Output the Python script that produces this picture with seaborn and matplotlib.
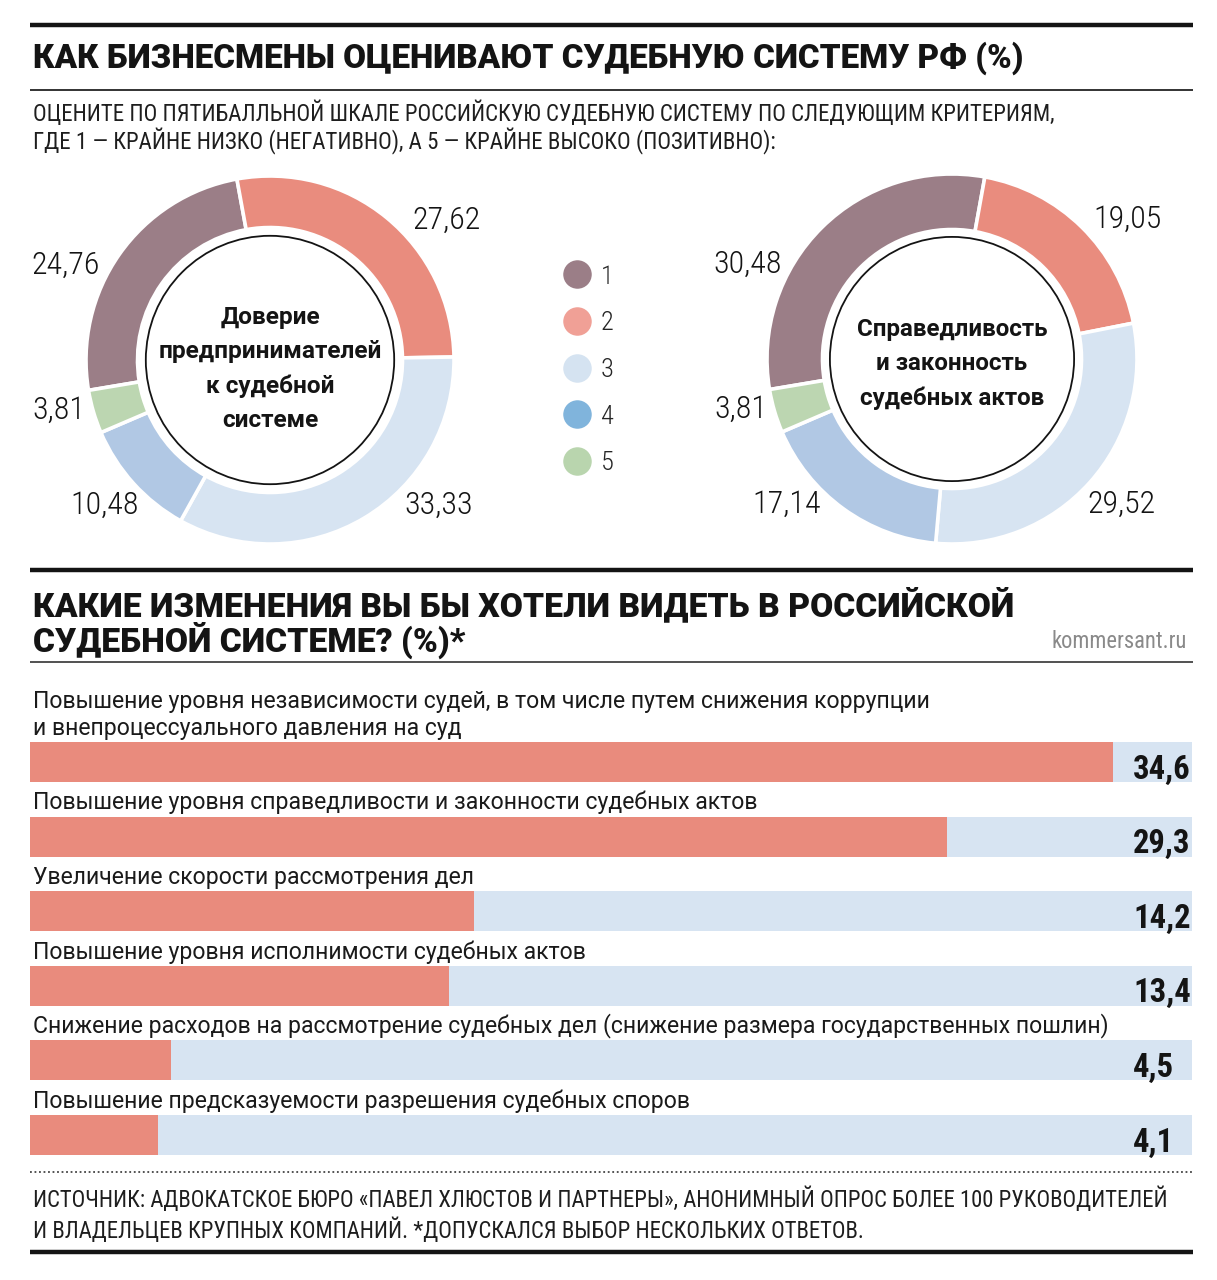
import matplotlib
matplotlib.use("Agg")
import matplotlib.pyplot as plt
import matplotlib.transforms as mtransforms
from matplotlib.lines import Line2D
from matplotlib.patches import Circle
import numpy as np
import pandas as pd
import seaborn as sns

# ---------------- data ----------------
ratings = ["1", "2", "3", "4", "5"]
trust_values = [24.76, 27.62, 33.33, 10.48, 3.81]
fairness_values = [30.48, 19.05, 29.52, 17.14, 3.81]
trust_title = "Доверие\nпредпринимателей\nк судебной\nсистеме"
fairness_title = "Справедливость\nи законность\nсудебных актов"

change_labels = [
    "Повышение уровня независимости судей, в том числе путем снижения коррупции\nи внепроцессуального давления на суд",
    "Повышение уровня справедливости и законности судебных актов",
    "Увеличение скорости рассмотрения дел",
    "Повышение уровня исполнимости судебных актов",
    "Снижение расходов на рассмотрение судебных дел (снижение размера государственных пошлин)",
    "Повышение предсказуемости разрешения судебных споров",
]
change_values = [34.6, 29.3, 14.2, 13.4, 4.5, 4.1]

title1 = "КАК БИЗНЕСМЕНЫ ОЦЕНИВАЮТ СУДЕБНУЮ СИСТЕМУ РФ (%)"
subtitle = ["ОЦЕНИТЕ ПО ПЯТИБАЛЛЬНОЙ ШКАЛЕ РОССИЙСКУЮ СУДЕБНУЮ СИСТЕМУ ПО СЛЕДУЮЩИМ КРИТЕРИЯМ,",
            "ГДЕ 1 — КРАЙНЕ НИЗКО (НЕГАТИВНО), А 5 — КРАЙНЕ ВЫСОКО (ПОЗИТИВНО):"]
title2 = ["КАКИЕ ИЗМЕНЕНИЯ ВЫ БЫ ХОТЕЛИ ВИДЕТЬ В РОССИЙСКОЙ", "СУДЕБНОЙ СИСТЕМЕ? (%)*"]
source = ["ИСТОЧНИК: АДВОКАТСКОЕ БЮРО «ПАВЕЛ ХЛЮСТОВ И ПАРТНЕРЫ», АНОНИМНЫЙ ОПРОС БОЛЕЕ 100 РУКОВОДИТЕЛЕЙ",
          "И ВЛАДЕЛЬЦЕВ КРУПНЫХ КОМПАНИЙ. *ДОПУСКАЛСЯ ВЫБОР НЕСКОЛЬКИХ ОТВЕТОВ."]
site = "kommersant.ru"

# ---------------- style ----------------
donut_colors = ["#9B7E87", "#E98C7E", "#D7E4F2", "#B1C8E4", "#BCD6B1"]
legend_colors = ["#9B7E87", "#F0A096", "#D5E3F1", "#80B4DC", "#B9D5AE"]
bar_red = "#E98B7D"
bar_bg = "#D7E4F2"
ink = "#141414"

sns.set_theme(style="white")
plt.rcParams["font.family"] = ["Roboto", "DejaVu Sans"]
COND = ["Roboto Condensed", "Roboto", "DejaVu Sans"]

W, H = 1217, 1280
fig = plt.figure(figsize=(W / 100, H / 100), dpi=100)
fig.patch.set_facecolor("white")
renderer = fig.canvas.get_renderer()

ov = fig.add_axes([0, 0, 1, 1])
ov.set_xlim(0, W)
ov.set_ylim(H, 0)
ov.axis("off")


def px_axes(x0, y0, x1, y1):
    return fig.add_axes([x0 / W, 1 - y1 / H, (x1 - x0) / W, (y1 - y0) / H])


def fit_size(s, width, **kw):
    t = fig.text(0, 0, s, fontsize=20, **kw)
    w = t.get_window_extent(renderer).width
    t.remove()
    return 20 * width / w


def fit_text(ax, x, y, s, width, **kw):
    size = fit_size(s, width, **{k: v for k, v in kw.items() if k in ("weight", "family", "linespacing")})
    return ax.text(x, y, s, fontsize=size, **kw)


# rules
ov.plot([30, 1193], [25, 25], color=ink, lw=3.2, solid_capstyle="butt")
ov.plot([30, 1193], [90, 90], color="#333333", lw=1.4, solid_capstyle="butt")
ov.plot([30, 1193], [570, 570], color=ink, lw=3.2, solid_capstyle="butt")
ov.plot([30, 1193], [662, 662], color="#333333", lw=1.2, solid_capstyle="butt")
ov.plot([30, 1193], [1172, 1172], color="#444444", lw=1.3, ls=(0, (1, 1.5)))
ov.plot([30, 1193], [1252, 1252], color=ink, lw=3.2, solid_capstyle="butt")

# titles
fit_text(ov, 33, 58, title1, 992, ha="left", va="center", weight="black", color=ink)
fs_sub = fit_size(subtitle[0], 1022, family=COND)
ov.text(33, 113, subtitle[0], ha="left", va="center", color="#1e1e1e", family=COND, fontsize=fs_sub)
ov.text(33, 141, subtitle[1], ha="left", va="center", color="#1e1e1e", family=COND, fontsize=fs_sub)
fs_t2 = fit_size(title2[0], 979, weight="black")
ov.text(33, 605, title2[0], ha="left", va="center", weight="black", color=ink, fontsize=fs_t2)
ov.text(33, 640, title2[1], ha="left", va="center", weight="black", color=ink, fontsize=fs_t2)
fit_text(ov, 1187, 641, site, 135, ha="right", va="center", color="#8a8a8a", family=COND)
fs_src = fit_size(source[0], 1137, family=COND)
ov.text(33, 1199, source[0], ha="left", va="center", color="#1e1e1e", family=COND, fontsize=fs_src)
ov.text(33, 1230, source[1], ha="left", va="center", color="#1e1e1e", family=COND, fontsize=fs_src)

# ---------------- donuts ----------------
label_offsets = [(-204, 95), (176, 140), (169, -145), (-165, -145), (-211, -50)]
num_fs = 23
START = 189.5


def donut(cx, cy, R, values, title, title_width, title_cy, ring, inner):
    ax = px_axes(cx - R, cy - R, cx + R, cy + R)
    ax.pie(values, colors=donut_colors, startangle=START, counterclock=False,
           radius=1, wedgeprops=dict(width=ring, edgecolor="white", linewidth=2.6))
    ax.add_patch(Circle((0, 0), inner, fill=False, edgecolor=ink, lw=1.3))
    ax.set_xlim(-1, 1)
    ax.set_ylim(-1, 1)
    ax.set_aspect("equal")
    ax.axis("off")
    for v, (dx, dy) in zip(values, label_offsets):
        ax.text(dx / R, dy / R, f"{v:.2f}".replace(".", ","), ha="center", va="center",
                family=COND, weight="light", color=ink, fontsize=num_fs)
    fs = fit_size(title, title_width, weight="bold", linespacing=1.6)
    ax.text(0, (cy - title_cy) / R, title, ha="center", va="center", weight="bold",
            color=ink, linespacing=1.6, fontsize=fs)
    return ax


donut(270, 360, 184, trust_values, trust_title, 223, 369, 0.28, 0.675)
donut(952, 359, 185, fairness_values, fairness_title, 191, 364, 0.30, 0.66)

# legend
handles = [Line2D([], [], marker="o", ls="", markersize=19.5, markerfacecolor=c,
                  markeredgecolor=c) for c in legend_colors]
fig.legend(handles, ratings, loc="center", bbox_to_anchor=(589 / W, 1 - 370 / H),
           frameon=False, labelspacing=0.86, handletextpad=0.4,
           handlelength=1.0, prop=dict(family=COND, size=19, weight="light"))

# ---------------- bars ----------------
bx = px_axes(30, 724.7, 1192, 1172.3)
xmax = 1162 / 31.3
df = pd.DataFrame({"label": change_labels, "value": change_values, "full": [xmax] * len(change_values)})
sns.barplot(data=df, x="full", y="label", orient="h", color=bar_bg, saturation=1,
            width=0.536, ax=bx, edgecolor="none")
sns.barplot(data=df, x="value", y="label", orient="h", color=bar_red, saturation=1,
            width=0.536, ax=bx, edgecolor="none")
bx.set_xlim(0, xmax)
bx.set_ylim(len(change_values) - 0.5, -0.5)
bx.axis("off")

trans = mtransforms.blended_transform_factory(bx.transAxes, bx.transData)
lab_fs = fit_size(change_labels[4], 1077)
for i, lab in enumerate(change_labels):
    bx.text(3 / 1162, i - 0.268 - 0.03, lab, transform=trans, ha="left", va="bottom",
            color="#1a1a1a", fontsize=lab_fs, linespacing=1.2)

for i, v in enumerate(change_values):
    bx.text((1133 - 30) / 1162, i + 0.268 - 0.045, f"{v:.1f}".replace(".", ","), transform=trans,
            ha="left", va="baseline", family=COND, weight="bold", color=ink, fontsize=23.5)

fig.savefig("out.png", dpi=100, facecolor="white")
